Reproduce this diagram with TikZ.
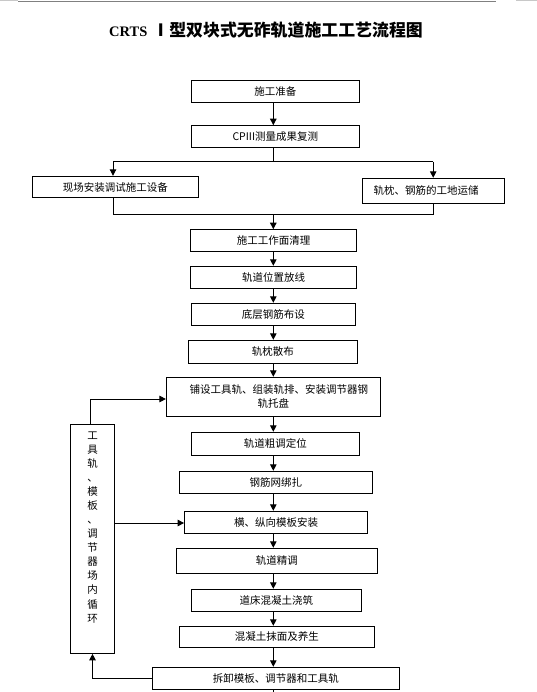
\documentclass[tikz,border=0pt]{standalone}
\usepackage{fontspec}
\setmainfont{Noto Sans CJK SC}
\newfontfamily\cjk{Noto Sans CJK SC}
\newfontfamily\lserif{Liberation Serif}
\usetikzlibrary{arrows.meta,calc}
\begin{document}
\begin{tikzpicture}[x=1pt,y=-1pt,
  box/.style={draw, line width=1pt, inner sep=0pt, align=center,
    font=\fontsize{10.5}{14}\selectfont},
  ln/.style={line width=1pt},
  arr/.style={line width=1pt, -{Triangle[length=6.5pt,width=6.5pt]}},
  sidetext/.style={inner sep=0pt, align=center, font=\fontsize{10.5}{14.08}\selectfont}]
\useasboundingbox (0,0) rectangle (537,692);
% top rules
\draw[line width=1pt, draw={rgb,255:red,200;green,200;blue,200}] (0,0.5) -- (18,0.5);
\draw[line width=1pt, draw={rgb,255:red,200;green,200;blue,200}] (516,0.5) -- (537,0.5);
\draw[line width=1.2pt, draw={rgb,255:red,128;green,128;blue,128}] (18,1.8) -- (496,1.8);
% title
\node[anchor=base east, inner sep=0pt, font=\fontsize{16.9}{20}\selectfont\bfseries] (title) at (423,36.4)
  {{\lserif\bfseries\fontsize{14.5}{16}\selectfont CRTS}\hspace{5pt}Ⅰ型双块式无砟轨道施工工艺流程图};
% boxes
\node[box, minimum width=167.8pt, minimum height=21.6pt] (b1) at (275.3,91.5) {施工准备};
\node[box, minimum width=167.8pt, minimum height=21.6pt] (b2) at (275.3,136.5) {CPIII测量成果复测};
\node[box, minimum width=166.1pt, minimum height=21.7pt] (b3) at (115.25,187.15) {现场安装调试施工设备};
\node[box, minimum width=142.2pt, minimum height=25pt] (b4) at (433.4,190.8) {轨枕、钢筋的工地运储\hspace*{14.8pt}};
\node[box, minimum width=165.4pt, minimum height=21.6pt] (b5) at (273.5,240.5) {施工工作面清理};
\node[box, minimum width=165.4pt, minimum height=22pt] (b6) at (273.5,277.3) {轨道位置放线};
\node[box, minimum width=163.7pt, minimum height=22pt] (b7) at (273.25,314.3) {底层钢筋布设};
\node[box, minimum width=168.8pt, minimum height=23pt] (b8) at (272.8,351.8) {轨枕散布};
\node[box, minimum width=213.7pt, minimum height=38.7pt] (b9) at (273.25,396.65)
  {\hspace*{11pt}铺设工具轨、组装轨排、安装调节器钢\\轨托盘};
\node[box, minimum width=167.8pt, minimum height=23pt] (b10) at (275.3,443.8) {轨道粗调定位};
\node[box, minimum width=192.8pt, minimum height=22pt] (b11) at (275.9,482.3) {钢筋网绑扎};
\node[box, minimum width=182.9pt, minimum height=22pt] (b12) at (276.05,522.3) {横、纵向模板安装};
\node[box, minimum width=201pt, minimum height=24.7pt] (b13) at (276.9,560.65) {轨道精调};
\node[box, minimum width=169.9pt, minimum height=21.7pt] (b14) at (276.35,600.15) {道床混凝土浇筑};
\node[box, minimum width=194.8pt, minimum height=20.7pt] (b15) at (276.9,636.65) {混凝土抹面及养生};
\node[box, minimum width=246.9pt, minimum height=22pt] (b16) at (275.85,678.3) {拆卸模板、调节器和工具轨};
% side box
\node[box, minimum width=44.2pt, minimum height=229pt] (side) at (92.3,538.8) {};
\node[sidetext] (sidetxt) at (92.5,527.2)
  {工\\具\\轨\\、\\模\\板\\、\\调\\节\\器\\场\\内\\循\\环};
% connector coordinates
\coordinate (m) at (273.3,0);
\coordinate (br) at (273.3,161.7);
\coordinate (bl) at (113,161.7);
\coordinate (brr) at (433.2,161.7);
\coordinate (ml) at (113,214.3);
\coordinate (mr) at (433.2,214.3);
\coordinate (mm) at (273.3,214.3);
\coordinate (st) at (90.4,399);
\coordinate (sr) at (0,523);
\coordinate (sb) at (92.5,678.3);
\coordinate (bot) at (273.3,692);
% connectors
\draw[arr] (b1.south -| m) -- (b2.north -| m);
\draw[ln] (b2.south -| m) -- (br);
\draw[ln] (bl) -- (brr);
\draw[arr] (bl) -- (b3.north -| bl);
\draw[arr] (brr) -- (b4.north -| brr);
\draw[ln] (b3.south -| ml) -- (ml) -- (mr) -- (b4.south -| mr);
\draw[arr] (mm) -- (b5.north -| mm);
\draw[arr] (b5.south -| m) -- (b6.north -| m);
\draw[arr] (b6.south -| m) -- (b7.north -| m);
\draw[arr] (b7.south -| m) -- (b8.north -| m);
\draw[arr] (b8.south -| m) -- (b9.north -| m);
\draw[arr] (b9.south -| m) -- (b10.north -| m);
\draw[arr] (b10.south -| m) -- (b11.north -| m);
\draw[arr] (b11.south -| m) -- (b12.north -| m);
\draw[arr] (b12.south -| m) -- (b13.north -| m);
\draw[arr] (b13.south -| m) -- (b14.north -| m);
\draw[arr] (b14.south -| m) -- (b15.north -| m);
\draw[arr] (b15.south -| m) -- (b16.north -| m);
\draw[ln] (b16.south -| bot) -- (bot);
\draw[arr] (side.north -| st) -- (st) -- (b9.west |- st);
\draw[arr] (side.east |- sr) -- (b12.west |- sr);
\draw[arr] (b16.west |- sb) -- (sb) -- (side.south -| sb);
\end{tikzpicture}
\end{document}
